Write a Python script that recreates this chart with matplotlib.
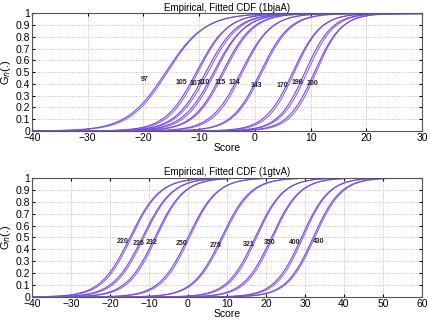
import numpy as np
import matplotlib
matplotlib.use("Agg")
import matplotlib.pyplot as plt

# Curve parameters (location = score at G=0.5, scale = spread)
top_lengths = ["97", "105", "107", "110", "115", "124", "143", "170", "190", "200"]
top_fit_loc = [-16.0, -10.5, -8.8, -7.4, -5.8, -2.5, 1.0, 6.8, 9.0, 10.7]
top_fit_scale = [3.5, 2.8, 2.8, 2.8, 2.7, 2.7, 2.6, 2.5, 2.4, 2.4]
top_emp_loc = [-15.7, -10.2, -8.4, -7.1, -5.5, -2.2, 1.3, 7.1, 9.4, 11.0]
top_emp_scale = [3.4, 2.7, 2.8, 2.7, 2.7, 2.6, 2.6, 2.4, 2.4, 2.3]
top_label_x = [-19.7, -13.1, -10.7, -9.1, -6.3, -3.6, 0.2, 4.9, 7.7, 10.3]
top_label_y = [0.44, 0.41, 0.40, 0.41, 0.41, 0.41, 0.385, 0.39, 0.41, 0.40]

bot_lengths = ["220", "226", "232", "250", "278", "321", "350", "400", "430"]
bot_fit_loc = [-14.9, -11.7, -8.5, 0.0, 8.6, 17.2, 21.4, 29.1, 32.1]
bot_fit_scale = [3.8, 3.8, 3.7, 3.7, 3.7, 3.6, 3.6, 3.5, 3.5]
bot_emp_loc = [-14.5, -11.3, -8.1, 0.4, 9.0, 17.6, 21.8, 29.5, 32.5]
bot_emp_scale = [3.7, 3.7, 3.6, 3.6, 3.7, 3.5, 3.5, 3.4, 3.5]
bot_label_x = [-16.7, -12.7, -9.3, -1.6, 7.2, 15.7, 21.0, 27.4, 33.4]
bot_label_y = [0.47, 0.45, 0.46, 0.45, 0.43, 0.44, 0.46, 0.46, 0.47]

FIT_COLOR = "#6a4fe0"
EMP_COLOR = "#a75fe8"


def cdf(x, loc, scale):
    return 1.0 / (1.0 + np.exp(-(x - loc) / scale))


def draw_panel(ax, xlim, labels, fit_loc, fit_scale, emp_loc, emp_scale, lab_x, lab_y, title):
    x = np.linspace(xlim[0], xlim[1], 600)
    for i in range(len(labels)):
        ax.plot(x, cdf(x, emp_loc[i], emp_scale[i]), color=EMP_COLOR, lw=0.8)
        ax.plot(x, cdf(x, fit_loc[i], fit_scale[i]), color=FIT_COLOR, lw=0.8)
        ax.text(lab_x[i], lab_y[i], labels[i], fontsize=5, fontweight="bold",
                ha="center", va="center", color="#222222")
    ax.set_xlim(xlim)
    ax.set_ylim(0, 1)
    ax.set_xticks(np.arange(xlim[0], xlim[1] + 1, 10))
    ax.set_yticks(np.arange(0, 1.01, 0.1))
    ax.set_yticklabels(["0", "0.1", "0.2", "0.3", "0.4", "0.5", "0.6", "0.7", "0.8", "0.9", "1"])
    ax.grid(True, linestyle=":", color="#b0b0b0", lw=0.6)
    ax.tick_params(direction="in", top=True, right=True, labelsize=7.5, length=2.5, pad=1.5)
    for s in ax.spines.values():
        s.set_color("#555555")
        s.set_linewidth(0.8)
    ax.set_title(title, fontsize=7, pad=2)
    ax.set_xlabel("Score", fontsize=7.5, labelpad=0)
    ax.set_ylabel(r"G$_n$(.)", fontsize=8, labelpad=2)


plt.rcParams["font.family"] = ["Liberation Sans", "DejaVu Sans"]
fig = plt.figure(figsize=(4.30, 3.21), dpi=100)
ax1 = fig.add_axes([0.0744, 0.592, 0.907, 0.366])
ax2 = fig.add_axes([0.0744, 0.0748, 0.907, 0.371])

draw_panel(ax1, (-40, 30), top_lengths, top_fit_loc, top_fit_scale, top_emp_loc, top_emp_scale,
           top_label_x, top_label_y, "Empirical, Fitted CDF (1bjaA)")
draw_panel(ax2, (-40, 60), bot_lengths, bot_fit_loc, bot_fit_scale, bot_emp_loc, bot_emp_scale,
           bot_label_x, bot_label_y, "Empirical, Fitted CDF (1gtvA)")

fig.savefig("out.png", dpi=100)
